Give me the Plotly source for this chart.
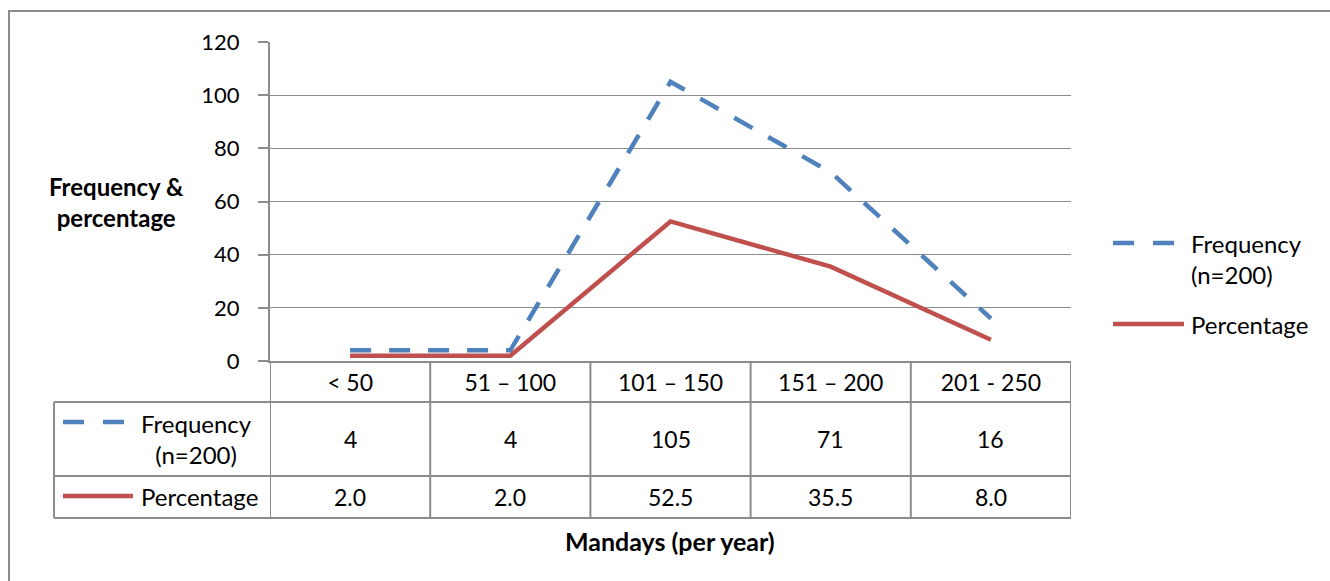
import plotly.graph_objects as go

# Mandays worked per year, grouped into ranges
categories = ["< 50", "51 – 100", "101 – 150", "151 – 200", "201 - 250"]
frequency = [4, 4, 105, 71, 16]
percentage = [2.0, 2.0, 52.5, 35.5, 8.0]

freq_name = "Frequency<br>(n=200)"
pct_name = "Percentage"
y_ticks = [0, 20, 40, 60, 80, 100, 120]

W, H = 1330, 581
L, R, T, B = 270, 259, 42, 220
PW, PH = W - L - R, H - T - B

BLUE = "#4F81BD"
RED = "#C0504D"
GRID = "#8C8C8C"
FONT = "Lato"
FS_NUM = 22   # axis numbers
FS_CELL = 23  # table numbers
FS_TXT = 24   # words
DASH = "21px,18px"


def px(xp):
    return (xp - L) / PW


def py(yp):
    return (H - B - yp) / PH


def label(x, y, text, size, xref="paper", xanchor="center", align="center"):
    return dict(x=x, y=y, xref=xref, yref="paper", text=text, showarrow=False,
                xanchor=xanchor, yanchor="middle", align=align,
                font=dict(size=size, color="black", family=FONT))


fig = go.Figure()
fig.add_trace(go.Scatter(x=categories, y=percentage, name=pct_name, mode="lines",
                         line=dict(color=RED, width=4.5), showlegend=False))
fig.add_trace(go.Scatter(x=categories, y=frequency, name=freq_name, mode="lines",
                         line=dict(color=BLUE, width=4.5, dash=DASH), showlegend=False))

shapes = []
ann = []

# outer chart frame
shapes.append(dict(type="rect", xref="paper", yref="paper", x0=px(9), x1=px(1340),
                   y0=py(595), y1=py(11), line=dict(color="#8C8C8C", width=2)))

# data table grid
for yp in [402, 476, 518]:
    shapes.append(dict(type="line", xref="paper", yref="paper", x0=px(54), x1=px(1071),
                       y0=py(yp), y1=py(yp), line=dict(color=GRID, width=2)))
shapes.append(dict(type="line", xref="paper", yref="paper", x0=px(54), x1=px(54),
                   y0=py(402), y1=py(518), line=dict(color=GRID, width=2)))
for i in range(len(categories) + 1):
    shapes.append(dict(type="line", xref="x", yref="paper", x0=i - 0.5, x1=i - 0.5,
                       y0=py(361), y1=py(518), line=dict(color=GRID, width=2)))

# table values
for i, cat in enumerate(categories):
    ann.append(label(cat, py(439), str(frequency[i]), FS_CELL, xref="x"))
    ann.append(label(cat, py(497), f"{percentage[i]:.1f}", FS_CELL, xref="x"))

# table row keys
for x0, x1 in [(63, 84), (103, 124)]:
    shapes.append(dict(type="line", xref="paper", yref="paper", x0=px(x0), x1=px(x1),
                       y0=py(422), y1=py(422), line=dict(color=BLUE, width=4.5)))
shapes.append(dict(type="line", xref="paper", yref="paper", x0=px(63), x1=px(133),
                   y0=py(496), y1=py(496), line=dict(color=RED, width=4.5)))
ann.append(label(px(196), py(439), freq_name, FS_TXT))
ann.append(label(px(139), py(496), pct_name, FS_TXT, xanchor="left"))

# legend on the right
for x0, x1 in [(1113, 1134), (1153, 1174)]:
    shapes.append(dict(type="line", xref="paper", yref="paper", x0=px(x0), x1=px(x1),
                       y0=py(243), y1=py(243), line=dict(color=BLUE, width=4.5)))
shapes.append(dict(type="line", xref="paper", yref="paper", x0=px(1113), x1=px(1184),
                   y0=py(324), y1=py(324), line=dict(color=RED, width=4.5)))
ann.append(label(px(1189), py(259), freq_name, FS_TXT, xanchor="left", align="left"))
ann.append(label(px(1189), py(324), pct_name, FS_TXT, xanchor="left"))

# axis titles
ann.append(label(px(116), py(202), "<b>Frequency &amp;<br>percentage</b>", 24))
ann.append(label(px(670), py(541), "<b>Mandays (per year)</b>", 25))

fig.update_layout(
    width=W, height=H,
    margin=dict(l=L, r=R, t=T, b=B),
    paper_bgcolor="white", plot_bgcolor="white",
    font=dict(family=FONT, size=FS_NUM, color="black"),
    shapes=shapes, annotations=ann,
    xaxis=dict(type="category", range=[-0.5, 4.5], showgrid=False, zeroline=False,
               showline=True, linecolor=GRID, linewidth=2, ticks="",
               tickfont=dict(size=23, family=FONT, color="black"), ticklabelstandoff=0),
    yaxis=dict(range=[0, 120], tickvals=y_ticks, showgrid=True, gridcolor=GRID, gridwidth=1.3,
               zeroline=False, showline=True, linecolor=GRID, linewidth=2,
               ticks="outside", ticklen=10, tickcolor=GRID, tickwidth=1.5,
               tickfont=dict(size=FS_NUM, family=FONT, color="black"), ticklabelstandoff=14),
)

fig.write_html("out.html")
